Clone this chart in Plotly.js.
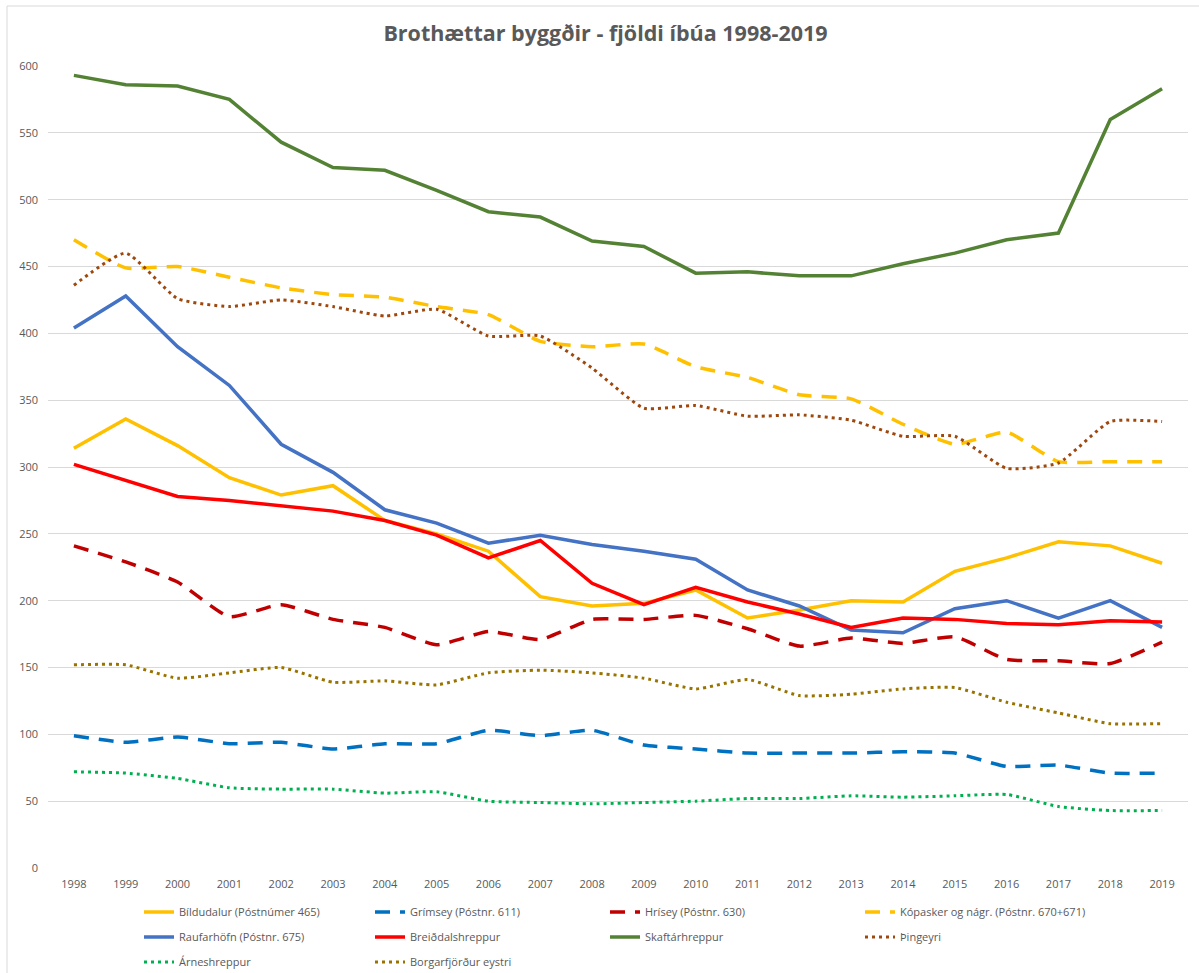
<!DOCTYPE html>
<html>
<head>
<meta charset="utf-8">
<script src="https://cdn.plot.ly/plotly-3.0.1.min.js"></script>
<style>html,body{margin:0;padding:0;background:#fff;}#chart{width:1199px;height:973px;}</style>
</head>
<body>
<div id="chart"></div>
<script>
const years = ['1998','1999','2000','2001','2002','2003','2004','2005','2006','2007','2008','2009','2010','2011','2012','2013','2014','2015','2016','2017','2018','2019'];

const bildudalur = [314,336,316,292,279,286,260,250,237,203,196,198,208,187,193,200,199,222,232,244,241,228];
const grimsey    = [99,94,98,93,94,89,93,93,103,99,103,92,89,86,86,86,87,86,76,77,71,71];
const hrisey     = [241,229,214,188,197,186,180,167,177,171,186,186,189,179,166,172,168,173,156,155,153,169];
const kopasker   = [470,449,450,442,434,429,427,420,414,394,390,392,375,367,354,351,332,317,326,304,304,304];
const raufarhofn = [404,428,390,361,317,296,268,258,243,249,242,237,231,208,196,178,176,194,200,187,200,180];
const breiddals  = [302,290,278,275,271,267,260,249,232,245,213,197,210,199,190,180,187,186,183,182,185,184];
const skaftar    = [593,586,585,575,543,524,522,507,491,487,469,465,445,446,443,443,452,460,470,475,560,583];
const thingeyri  = [436,460,426,420,425,420,413,418,398,398,374,344,346,338,339,335,323,323,299,303,334,334];
const arnes      = [72,71,67,60,59,59,56,57,50,49,48,49,50,52,52,54,53,54,55,46,43,43];
const borgar     = [152,152,142,146,150,139,140,137,146,148,146,142,134,141,129,130,134,135,124,116,108,108];

const seriesNames = ['Bíldudalur (Póstnúmer 465)','Grímsey (Póstnr. 611)','Hrísey (Póstnr. 630)','Kópasker og nágr. (Póstnr. 670+671)','Raufarhöfn (Póstnr. 675)','Breiðdalshreppur','Skaftárhreppur','Þingeyri','Árneshreppur','Borgarfjörður eystri'];
const seriesData = [bildudalur, grimsey, hrisey, kopasker, raufarhofn, breiddals, skaftar, thingeyri, arnes, borgar];
const seriesColors = ['#FFC000','#0070C0','#C00000','#FFC000','#4472C4','#FF0000','#548235','#9E480E','#00B050','#997300'];
const seriesStyle = ['solid','dash','dash','dash','solid','solid','solid','dot','dot','dot'];

// plot area geometry (px) used to place legend entries like the original's 4-column legend
const M = {l: 48, r: 11, t: 66, b: 105};
const W = 1199, H = 973;
const pw = W - M.l - M.r, ph = H - M.t - M.b;
const legendCols = [145, 376, 611, 866];
const legendRows = [912, 937, 962];

const traces = [];
const layout = {
  width: W, height: H,
  paper_bgcolor: '#ffffff', plot_bgcolor: '#ffffff',
  margin: {l: M.l, r: M.r, t: M.t, b: M.b, autoexpand: false},
  font: {family: 'Open Sans, sans-serif', color: '#595959', size: 11},
  title: {text: 'Brothættar byggðir - fjöldi íbúa 1998-2019', font: {family: 'Open Sans, sans-serif', size: 21.5, color: '#595959', weight: 'bold'}, x: 0.505, xanchor: 'center', y: 0.966, yanchor: 'middle'},
  xaxis: {type: 'category', range: [-0.5, 21.5], showgrid: false, zeroline: false, showline: false, ticks: '', tickfont: {size: 11, color: '#595959'}, ticklabelstandoff: 8, fixedrange: true},
  yaxis: {range: [0, 600], dtick: 50, tick0: 0, showgrid: true, gridcolor: '#D9D9D9', gridwidth: 1, zeroline: false, showline: false, ticks: '', tickfont: {size: 11, color: '#595959'}, ticklabelstandoff: 9, fixedrange: true},
  showlegend: true,
  shapes: [{type: 'rect', xref: 'paper', yref: 'paper', x0: (7 - M.l) / pw, x1: 1.02, y0: -0.14, y1: (H - M.b - 6) / ph, line: {color: '#D9D9D9', width: 1}, fillcolor: 'rgba(0,0,0,0)', layer: 'below'}]
};

seriesNames.forEach((name, i) => {
  const st = seriesStyle[i];
  let line = {color: seriesColors[i], width: 3.5};
  if (st === 'dash') { line.dash = '15px,10px'; line.shape = 'spline'; line.smoothing = 0.5; }
  if (st === 'dot') { line.dash = '3px,4px'; line.width = 3; line.shape = 'spline'; line.smoothing = 0.5; }
  const lname = i === 0 ? 'legend' : 'legend' + (i + 1);
  traces.push({x: years, y: seriesData[i], name: name, type: 'scatter', mode: 'lines', line: line, legend: lname, hoverinfo: 'x+y+name'});
  const col = i % 4, row = Math.floor(i / 4);
  layout[lname] = {
    orientation: 'h',
    x: (legendCols[col] - 6 - M.l) / pw, xanchor: 'left',
    y: (H - M.b - legendRows[row]) / ph, yanchor: 'middle',
    font: {size: 11, color: '#595959'},
    bgcolor: 'rgba(0,0,0,0)', borderwidth: 0
  };
});

Plotly.newPlot('chart', traces, layout, {displayModeBar: false, staticPlot: true});
</script>
</body>
</html>
